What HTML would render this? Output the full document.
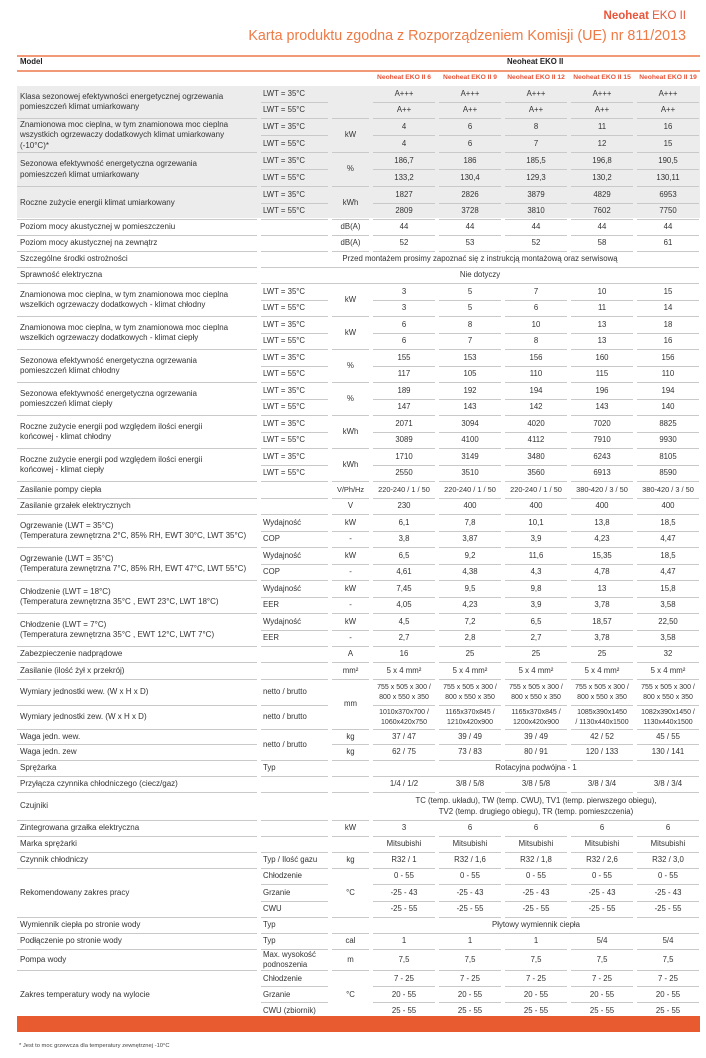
<!DOCTYPE html>
<html><head><meta charset="utf-8">
<style>
body{margin:0;width:706px;height:1058px;background:#fff;position:relative;font-family:"Liberation Sans",sans-serif;color:#333;overflow:hidden}
.t1{position:absolute;right:20px;top:10px;font-size:11.5px;color:#e8553a;white-space:nowrap}
.t2{position:absolute;right:20px;top:28px;font-size:14.3px;color:#ef7a45;white-space:nowrap}
.ol{position:absolute;left:17px;width:683px;height:1.5px;background:#f29a78}
.gray{position:absolute;left:17px;top:86px;width:683px;height:132px;background:#ececec}
table{position:absolute;left:13px;top:71px;border-collapse:separate;border-spacing:4px 0;table-layout:fixed;font-size:7.8px}
td{border-bottom:1.6px solid #c9c9c9;padding:0;text-align:center;vertical-align:middle;line-height:1.3;white-space:nowrap;overflow:hidden}
.d td{font-size:7px}
td.l{text-align:left;padding-left:3px;font-size:8px}
td.s{text-align:left;padding-left:2px;font-size:7.8px}
tr.h td{border-bottom:none;color:#e8553a;font-weight:bold;font-size:6.7px}
tr{height:16.5px}
.modelrow{position:absolute;left:17px;top:57px;width:683px;font-size:7.8px;font-weight:bold;color:#222}
.bar{position:absolute;left:17px;top:1016px;width:683px;height:16px;background:#e85a30}
.fn{position:absolute;left:19px;top:1043px;font-size:5.8px;color:#444}
</style></head><body>
<div class="t1"><b>Neoheat</b> EKO II</div>
<div class="t2">Karta produktu zgodna z Rozporządzeniem Komisji (UE) nr 811/2013</div>
<div class="ol" style="top:55px"></div>
<div class="modelrow"><span style="margin-left:3px">Model</span><span style="position:absolute;left:490px">Neoheat EKO II</span></div>
<div class="ol" style="top:70px"></div>
<div class="gray"></div>
<table>
<colgroup><col style="width:240px"><col style="width:67px"><col style="width:37px"><col style="width:62px"><col style="width:62px"><col style="width:62px"><col style="width:62px"><col style="width:62px"></colgroup>
<tr class="h" style="height:15px"><td></td><td></td><td></td><td>Neoheat EKO II 6</td><td>Neoheat EKO II 9</td><td>Neoheat EKO II 12</td><td>Neoheat EKO II 15</td><td>Neoheat EKO II 19</td></tr>
<tr><td class="l" rowspan="2">Klasa sezonowej efektywności energetycznej ogrzewania<br>pomieszczeń klimat umiarkowany</td><td class="s">LWT = 35°C</td><td rowspan="2"></td><td>A+++</td><td>A+++</td><td>A+++</td><td>A+++</td><td>A+++</td></tr>
<tr><td class="s">LWT = 55°C</td><td>A++</td><td>A++</td><td>A++</td><td>A++</td><td>A++</td></tr>
<tr style="height:17px"><td class="l" rowspan="2">Znamionowa moc cieplna, w tym znamionowa moc cieplna<br>wszystkich ogrzewaczy dodatkowych klimat umiarkowany<br>(-10°C)*</td><td class="s">LWT = 35°C</td><td rowspan="2">kW</td><td>4</td><td>6</td><td>8</td><td>11</td><td>16</td></tr>
<tr style="height:17px"><td class="s">LWT = 55°C</td><td>4</td><td>6</td><td>7</td><td>12</td><td>15</td></tr>
<tr style="height:17px"><td class="l" rowspan="2">Sezonowa efektywność energetyczna ogrzewania<br>pomieszczeń klimat umiarkowany</td><td class="s">LWT = 35°C</td><td rowspan="2">%</td><td>186,7</td><td>186</td><td>185,5</td><td>196,8</td><td>190,5</td></tr>
<tr style="height:17px"><td class="s">LWT = 55°C</td><td>133,2</td><td>130,4</td><td>129,3</td><td>130,2</td><td>130,11</td></tr>
<tr><td class="l" rowspan="2">Roczne zużycie energii klimat umiarkowany</td><td class="s">LWT = 35°C</td><td rowspan="2">kWh</td><td>1827</td><td>2826</td><td>3879</td><td>4829</td><td>6953</td></tr>
<tr><td class="s">LWT = 55°C</td><td>2809</td><td>3728</td><td>3810</td><td>7602</td><td>7750</td></tr>
<tr style="height:16px"><td class="l">Poziom mocy akustycznej w pomieszczeniu</td><td></td><td>dB(A)</td><td>44</td><td>44</td><td>44</td><td>44</td><td>44</td></tr>
<tr style="height:16px"><td class="l">Poziom mocy akustycznej na zewnątrz</td><td></td><td>dB(A)</td><td>52</td><td>53</td><td>52</td><td>58</td><td>61</td></tr>
<tr style="height:16px"><td class="l">Szczególne środki ostrożności</td><td colspan="7">Przed montażem prosimy zapoznać się z instrukcją montażową oraz serwisową</td></tr>
<tr style="height:16px"><td class="l">Sprawność elektryczna</td><td colspan="7">Nie dotyczy</td></tr>
<tr><td class="l" rowspan="2">Znamionowa moc cieplna, w tym znamionowa moc cieplna<br>wszelkich ogrzewaczy dodatkowych - klimat chłodny</td><td class="s">LWT = 35°C</td><td rowspan="2">kW</td><td>3</td><td>5</td><td>7</td><td>10</td><td>15</td></tr>
<tr><td class="s">LWT = 55°C</td><td>3</td><td>5</td><td>6</td><td>11</td><td>14</td></tr>
<tr><td class="l" rowspan="2">Znamionowa moc cieplna, w tym znamionowa moc cieplna<br>wszelkich ogrzewaczy dodatkowych - klimat ciepły</td><td class="s">LWT = 35°C</td><td rowspan="2">kW</td><td>6</td><td>8</td><td>10</td><td>13</td><td>18</td></tr>
<tr><td class="s">LWT = 55°C</td><td>6</td><td>7</td><td>8</td><td>13</td><td>16</td></tr>
<tr><td class="l" rowspan="2">Sezonowa efektywność energetyczna ogrzewania<br>pomieszczeń klimat chłodny</td><td class="s">LWT = 35°C</td><td rowspan="2">%</td><td>155</td><td>153</td><td>156</td><td>160</td><td>156</td></tr>
<tr><td class="s">LWT = 55°C</td><td>117</td><td>105</td><td>110</td><td>115</td><td>110</td></tr>
<tr><td class="l" rowspan="2">Sezonowa efektywność energetyczna ogrzewania<br>pomieszczeń klimat ciepły</td><td class="s">LWT = 35°C</td><td rowspan="2">%</td><td>189</td><td>192</td><td>194</td><td>196</td><td>194</td></tr>
<tr><td class="s">LWT = 55°C</td><td>147</td><td>143</td><td>142</td><td>143</td><td>140</td></tr>
<tr><td class="l" rowspan="2">Roczne zużycie energii pod względem ilości energii<br>końcowej - klimat chłodny</td><td class="s">LWT = 35°C</td><td rowspan="2">kWh</td><td>2071</td><td>3094</td><td>4020</td><td>7020</td><td>8825</td></tr>
<tr><td class="s">LWT = 55°C</td><td>3089</td><td>4100</td><td>4112</td><td>7910</td><td>9930</td></tr>
<tr><td class="l" rowspan="2">Roczne zużycie energii pod względem ilości energii<br>końcowej - klimat ciepły</td><td class="s">LWT = 35°C</td><td rowspan="2">kWh</td><td>1710</td><td>3149</td><td>3480</td><td>6243</td><td>8105</td></tr>
<tr><td class="s">LWT = 55°C</td><td>2550</td><td>3510</td><td>3560</td><td>6913</td><td>8590</td></tr>
<tr style="font-size:7.4px"><td class="l">Zasilanie pompy ciepła</td><td></td><td>V/Ph/Hz</td><td>220-240 / 1 / 50</td><td>220-240 / 1 / 50</td><td>220-240 / 1 / 50</td><td>380-420 / 3 / 50</td><td>380-420 / 3 / 50</td></tr>
<tr><td class="l">Zasilanie grzałek elektrycznych</td><td></td><td>V</td><td>230</td><td>400</td><td>400</td><td>400</td><td>400</td></tr>
<tr><td class="l" rowspan="2">Ogrzewanie (LWT = 35°C)<br>(Temperatura zewnętrzna 2°C, 85% RH, EWT 30°C, LWT 35°C)</td><td class="s">Wydajność</td><td>kW</td><td>6,1</td><td>7,8</td><td>10,1</td><td>13,8</td><td>18,5</td></tr>
<tr><td class="s">COP</td><td>-</td><td>3,8</td><td>3,87</td><td>3,9</td><td>4,23</td><td>4,47</td></tr>
<tr><td class="l" rowspan="2">Ogrzewanie (LWT = 35°C)<br>(Temperatura zewnętrzna 7°C, 85% RH, EWT 47°C, LWT 55°C)</td><td class="s">Wydajność</td><td>kW</td><td>6,5</td><td>9,2</td><td>11,6</td><td>15,35</td><td>18,5</td></tr>
<tr><td class="s">COP</td><td>-</td><td>4,61</td><td>4,38</td><td>4,3</td><td>4,78</td><td>4,47</td></tr>
<tr><td class="l" rowspan="2">Chłodzenie (LWT = 18°C)<br>(Temperatura zewnętrzna 35°C , EWT 23°C, LWT 18°C)</td><td class="s">Wydajność</td><td>kW</td><td>7,45</td><td>9,5</td><td>9,8</td><td>13</td><td>15,8</td></tr>
<tr><td class="s">EER</td><td>-</td><td>4,05</td><td>4,23</td><td>3,9</td><td>3,78</td><td>3,58</td></tr>
<tr><td class="l" rowspan="2">Chłodzenie (LWT = 7°C)<br>(Temperatura zewnętrzna 35°C , EWT 12°C, LWT 7°C)</td><td class="s">Wydajność</td><td>kW</td><td>4,5</td><td>7,2</td><td>6,5</td><td>18,57</td><td>22,50</td></tr>
<tr><td class="s">EER</td><td>-</td><td>2,7</td><td>2,8</td><td>2,7</td><td>3,78</td><td>3,58</td></tr>
<tr style="height:16px"><td class="l">Zabezpieczenie nadprądowe</td><td></td><td>A</td><td>16</td><td>25</td><td>25</td><td>25</td><td>32</td></tr>
<tr style="height:17px"><td class="l">Zasilanie (ilość żył x przekrój)</td><td></td><td>mm²</td><td>5 x 4 mm²</td><td>5 x 4 mm²</td><td>5 x 4 mm²</td><td>5 x 4 mm²</td><td>5 x 4 mm²</td></tr>
<tr class="d" style="height:26px"><td class="l">Wymiary jednostki wew. (W x H x D)</td><td class="s">netto / brutto</td><td rowspan="2" style="font-size:7.8px">mm</td><td>755 x 505 x 300 /<br>800 x 550 x 350</td><td>755 x 505 x 300 /<br>800 x 550 x 350</td><td>755 x 505 x 300 /<br>800 x 550 x 350</td><td>755 x 505 x 300 /<br>800 x 550 x 350</td><td>755 x 505 x 300 /<br>800 x 550 x 350</td></tr>
<tr class="d" style="height:24px"><td class="l">Wymiary jednostki zew. (W x H x D)</td><td class="s">netto / brutto</td><td>1010x370x700 /<br>1060x420x750</td><td>1165x370x845 /<br>1210x420x900</td><td>1165x370x845 /<br>1200x420x900</td><td>1085x390x1450<br>/ 1130x440x1500</td><td>1082x390x1450 /<br>1130x440x1500</td></tr>
<tr style="height:15px"><td class="l">Waga jedn. wew.</td><td class="s" rowspan="2">netto / brutto</td><td>kg</td><td>37 / 47</td><td>39 / 49</td><td>39 / 49</td><td>42 / 52</td><td>45 / 55</td></tr>
<tr style="height:16px"><td class="l">Waga jedn. zew</td><td>kg</td><td>62 / 75</td><td>73 / 83</td><td>80 / 91</td><td>120 / 133</td><td>130 / 141</td></tr>
<tr style="height:16px"><td class="l">Sprężarka</td><td class="s">Typ</td><td></td><td colspan="5">Rotacyjna podwójna - 1</td></tr>
<tr style="height:16px"><td class="l">Przyłącza czynnika chłodniczego (ciecz/gaz)</td><td></td><td></td><td>1/4 / 1/2</td><td>3/8 / 5/8</td><td>3/8 / 5/8</td><td>3/8 / 3/4</td><td>3/8 / 3/4</td></tr>
<tr style="height:28px"><td class="l">Czujniki</td><td></td><td></td><td colspan="5">TC (temp. układu), TW (temp. CWU), TV1 (temp. pierwszego obiegu),<br>TV2 (temp. drugiego obiegu), TR (temp. pomieszczenia)</td></tr>
<tr style="height:16px"><td class="l">Zintegrowana grzałka elektryczna</td><td></td><td>kW</td><td>3</td><td>6</td><td>6</td><td>6</td><td>6</td></tr>
<tr style="height:16px"><td class="l">Marka sprężarki</td><td></td><td></td><td>Mitsubishi</td><td>Mitsubishi</td><td>Mitsubishi</td><td>Mitsubishi</td><td>Mitsubishi</td></tr>
<tr style="height:16px"><td class="l">Czynnik chłodniczy</td><td class="s">Typ / Ilość gazu</td><td>kg</td><td>R32 / 1</td><td>R32 / 1,6</td><td>R32 / 1,8</td><td>R32 / 2,6</td><td>R32 / 3,0</td></tr>
<tr style="height:16px"><td class="l" rowspan="3">Rekomendowany zakres pracy</td><td class="s">Chłodzenie</td><td rowspan="3">°C</td><td>0 - 55</td><td>0 - 55</td><td>0 - 55</td><td>0 - 55</td><td>0 - 55</td></tr>
<tr style="height:17px"><td class="s">Grzanie</td><td>-25 - 43</td><td>-25 - 43</td><td>-25 - 43</td><td>-25 - 43</td><td>-25 - 43</td></tr>
<tr style="height:16px"><td class="s">CWU</td><td>-25 - 55</td><td>-25 - 55</td><td>-25 - 55</td><td>-25 - 55</td><td>-25 - 55</td></tr>
<tr style="height:16px"><td class="l">Wymiennik ciepła po stronie wody</td><td class="s">Typ</td><td></td><td colspan="5">Płytowy wymiennik ciepła</td></tr>
<tr style="height:16px"><td class="l">Podłączenie po stronie wody</td><td class="s">Typ</td><td>cal</td><td>1</td><td>1</td><td>1</td><td>5/4</td><td>5/4</td></tr>
<tr style="height:20px"><td class="l">Pompa wody</td><td class="s">Max. wysokość<br>podnoszenia</td><td>m</td><td>7,5</td><td>7,5</td><td>7,5</td><td>7,5</td><td>7,5</td></tr>
<tr style="height:16px"><td class="l" rowspan="3" style="border-bottom:none">Zakres temperatury wody na wylocie</td><td class="s">Chłodzenie</td><td rowspan="3" style="border-bottom:none">°C</td><td>7 - 25</td><td>7 - 25</td><td>7 - 25</td><td>7 - 25</td><td>7 - 25</td></tr>
<tr style="height:16px"><td class="s">Grzanie</td><td>20 - 55</td><td>20 - 55</td><td>20 - 55</td><td>20 - 55</td><td>20 - 55</td></tr>
<tr style="height:16px"><td class="s" style="border-bottom:none">CWU (zbiornik)</td><td style="border-bottom:none">25 - 55</td><td style="border-bottom:none">25 - 55</td><td style="border-bottom:none">25 - 55</td><td style="border-bottom:none">25 - 55</td><td style="border-bottom:none">25 - 55</td></tr>
</table>
<div class="bar"></div>
<div class="fn">* Jest to moc grzewcza dla temperatury zewnętrznej -10°C</div>
</body></html>
